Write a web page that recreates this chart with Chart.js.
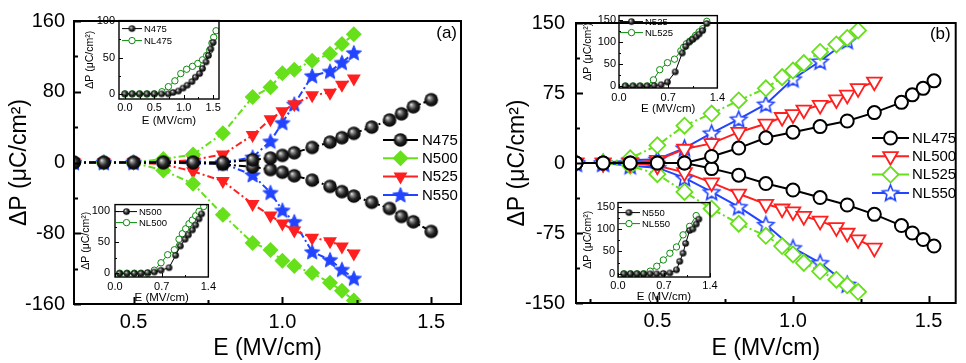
<!DOCTYPE html>
<html lang="en">
<head>
  <meta charset="UTF-8" />
  <title>ΔP vs E</title>
  <script src="https://cdn.jsdelivr.net/npm/chart.js@4"></script>
  <style>
    body { margin: 0; background: #fff; }
    #fig { position: relative; width: 966px; height: 363px; overflow: hidden; background: #fff; }
    #fig canvas { position: absolute; }
  </style>
</head>
<body>
  <div id="fig">
    <canvas id="mainA" width="483" height="363" style="left:0;top:0"></canvas>
    <canvas id="mainB" width="483" height="363" style="left:483px;top:0"></canvas>
    <canvas id="insA1" width="149" height="122" style="left:80px;top:10px"></canvas>
    <canvas id="insA2" width="143" height="115" style="left:76px;top:193px"></canvas>
    <canvas id="insB1" width="153" height="113" style="left:575px;top:6px"></canvas>
    <canvas id="insB2" width="145" height="115" style="left:575px;top:193px"></canvas>
  </div>

<script>
  // ---- panel (a): N samples, upper (+) and lower (-) branches
  var eN475 = [0.3, 0.4, 0.5, 0.6, 0.7, 0.8, 0.9, 0.96, 1.0, 1.04, 1.1, 1.16, 1.2, 1.24, 1.3, 1.36, 1.4, 1.44, 1.5];
  var n475Up = [0, 0, 0, 0, 0, 0, 3, 5, 8, 11, 17, 23, 28, 33, 40, 48, 55, 63, 71];
  var n475Dn = [0, 0, 0, 0, 0, -2, -5, -8, -11, -15, -20, -27, -33, -38, -45, -52, -61, -67, -78];

  var eN = [0.3, 0.4, 0.5, 0.6, 0.7, 0.8, 0.9, 0.96, 1.0, 1.04, 1.1, 1.16, 1.2, 1.24];
  var n500Up = [0, 0, 0, 4, 9, 33, 74, 85, 101, 105, 115, 123, 134, 145];
  var n500Dn = [0, 0, 0, -9, -24, -59, -91, -99, -111, -117, -125, -136, -145, -156];
  var n525Up = [0, 0, 0, 0, 3, 9, 31, 49, 58, 66, 76, 79, 88, 95];
  var n525Dn = [0, 0, 0, -2, -10, -21, -47, -60, -69, -77, -85, -89, -95, -103];
  var n550Up = [0, 0, 0, 0, 0, 0, 6, 24, 45, 66, 98, 103, 113, 124];
  var n550Dn = [0, 0, 0, 0, -1, -1, -14, -34, -54, -67, -101, -110, -121, -131];

  // ---- panel (b): NL samples
  var eNL475 = [0.2, 0.3, 0.4, 0.5, 0.6, 0.7, 0.8, 0.9, 1.0, 1.1, 1.2, 1.3, 1.4, 1.44, 1.48, 1.52];
  var nl475Up = [0, 0, 0, 0, 0, 7, 16, 27, 33, 39, 45, 54, 65, 73, 80, 88];
  var nl475Dn = [0, 0, 0, 0, 0, -6, -13, -22, -29, -37, -45, -55, -67, -75, -82, -89];

  var eNL500 = [0.2, 0.3, 0.4, 0.5, 0.6, 0.7, 0.8, 0.9, 0.96, 1.0, 1.04, 1.1, 1.16, 1.2, 1.24, 1.3];
  var nl500Up = [0, 0, 0, 3, 15, 21, 33, 42, 49, 52, 57, 62, 68, 73, 80, 87];
  var nl500Dn = [0, 0, 0, -3, -10, -21, -33, -44, -49, -52, -57, -62, -69, -75, -82, -91];

  var eNL525 = [0.2, 0.3, 0.4, 0.5, 0.6, 0.7, 0.8, 0.9, 0.96, 1.0, 1.04, 1.1, 1.16, 1.2, 1.24];
  var nl525Up = [0, 0, 5, 19, 40, 53, 67, 80, 92, 99, 107, 119, 127, 134, 142];
  var nl525Dn = [0, 0, -3, -12, -31, -49, -65, -78, -89, -98, -107, -116, -125, -131, -138];

  var eNL550 = [0.2, 0.3, 0.4, 0.5, 0.6, 0.7, 0.8, 0.9, 1.0, 1.1, 1.2];
  var nl550Up = [0, 0, 3, 4, 16, 32, 47, 63, 90, 109, 131];
  var nl550Dn = [0, 0, -3, -5, -16, -31, -47, -66, -91, -107, -130];

  // ---- insets (N vs NL, one sample each)
  var iN475E = [0, 0.125, 0.25, 0.375, 0.5, 0.625, 0.74, 0.82, 0.91, 0.99, 1.06, 1.14, 1.2, 1.27, 1.32, 1.38, 1.42, 1.46, 1.5];
  var iN475P = [0, 0, 0, 0, 0, 0, 0, 2, 4, 8, 12, 17, 23, 28, 35, 44, 53, 62, 71];
  var iNL475E = [0, 0.125, 0.25, 0.375, 0.5, 0.63, 0.74, 0.85, 0.95, 1.05, 1.15, 1.24, 1.32, 1.39, 1.44, 1.48, 1.51, 1.55];
  var iNL475P = [0, 0, 0, 0, 0, 3, 10, 18, 28, 34, 38, 42, 47, 53, 60, 70, 78, 87];

  var iN500E = [0.07, 0.18, 0.29, 0.39, 0.49, 0.59, 0.69, 0.81, 0.91, 0.98, 1.05, 1.1, 1.16, 1.21, 1.26, 1.3];
  var iN500P = [0, 0, 0, 0, 1, 2, 5, 9, 29, 44, 55, 62, 70, 78, 88, 96];
  var iNL500E = [0.07, 0.18, 0.29, 0.39, 0.49, 0.59, 0.69, 0.79, 0.89, 0.96, 1.01, 1.06, 1.11, 1.16, 1.21, 1.26, 1.33];
  var iNL500P = [0, 0, 0, 0, 0, 5, 17, 30, 38, 55, 64, 72, 80, 86, 93, 100, 108];

  var iN525E = [0.09, 0.2, 0.3, 0.4, 0.5, 0.6, 0.69, 0.8, 0.9, 0.95, 1.0, 1.05, 1.1, 1.14, 1.19, 1.25];
  var iN525P = [0, 0, 0, 0, 1, 3, 9, 32, 75, 90, 100, 106, 112, 118, 126, 142];
  var iNL525E = [0.09, 0.2, 0.3, 0.4, 0.49, 0.58, 0.69, 0.79, 0.88, 0.92, 0.96, 1.01, 1.05, 1.09, 1.14, 1.19, 1.25];
  var iNL525P = [0, 0, 0, 0, 14, 37, 53, 61, 80, 88, 96, 102, 107, 115, 123, 130, 147];

  var iN550E = [0.09, 0.19, 0.29, 0.39, 0.49, 0.59, 0.69, 0.79, 0.89, 0.94, 0.99, 1.03, 1.09, 1.14, 1.19, 1.23];
  var iN550P = [0, 0, 0, 0, 0, 0, 1, 2, 9, 28, 46, 68, 97, 100, 111, 122];
  var iNL550E = [0.09, 0.19, 0.29, 0.39, 0.49, 0.59, 0.69, 0.79, 0.89, 0.99, 1.09, 1.19];
  var iNL550P = [0, 0, 0, 0, 6, 17, 31, 46, 60, 87, 106, 130];

  // ---- axis ticks
  var xTicksMain = [0.5, 1.0, 1.5];
  var xMinorA = [0.75, 1.25];
  var xMinorB = [0.25, 0.75, 1.25];
  var yTicksA = [-160, -80, 0, 80, 160];
  var yMinorA = [-120, -40, 40, 120];
  var yTicksB = [-150, -75, 0, 75, 150];
  var yMinorB = [-112.5, -37.5, 37.5, 112.5];
  var xTicksInA1 = [0, 0.5, 1.0, 1.5];
  var xMinorInA1 = [0.25, 0.75, 1.25];
  var xTicksIn = [0, 0.7, 1.4];
  var xMinorIn = [0.35, 1.05];
  var yTicksIn100 = [0, 50, 100];
  var yMinorIn100 = [25, 75];
  var yTicksIn150 = [0, 50, 100, 150];
  var yMinorIn150 = [25, 75, 125];

  var FONT = '"Liberation Sans", Arial, sans-serif';
  var GREEN = '#66e01a';
  var RED = '#ff1f1f';
  var BLUE = '#2244ff';
  var DKGREEN = '#0b8a0b';

  // marker images
  function makeSphere(r) {
    var c = document.createElement('canvas');
    var s = Math.ceil(2 * r + 2);
    c.width = s; c.height = s;
    var g = c.getContext('2d');
    var m = s / 2;
    var grad = g.createRadialGradient(m - 0.35 * r, m - 0.35 * r, 0, m, m, r);
    grad.addColorStop(0, '#f4f4f4');
    grad.addColorStop(0.25, '#8c8c8c');
    grad.addColorStop(0.6, '#262626');
    grad.addColorStop(1, '#000');
    g.fillStyle = grad;
    g.beginPath();
    g.arc(m, m, r, 0, Math.PI * 2);
    g.fill();
    return c;
  }

  function makeStar(r, fill, stroke, lw) {
    var c = document.createElement('canvas');
    var s = Math.ceil(2 * r + 2 * lw + 2);
    c.width = s; c.height = s;
    var g = c.getContext('2d');
    var m = s / 2;
    g.beginPath();
    for (var i = 0; i < 10; i++) {
      var rr = i % 2 == 0 ? r : r * 0.45;
      var ang = -Math.PI / 2 + i * Math.PI / 5;
      var px = m + rr * Math.cos(ang);
      var py = m + 0.08 * r + rr * Math.sin(ang);
      if (i == 0) g.moveTo(px, py); else g.lineTo(px, py);
    }
    g.closePath();
    g.fillStyle = fill;
    g.fill();
    g.lineWidth = lw;
    g.strokeStyle = stroke;
    g.lineJoin = 'miter';
    g.stroke();
    return c;
  }

  var sphereBig = makeSphere(6.8);
  var sphereSmall = makeSphere(3.3);
  var starFilled = makeStar(8, BLUE, BLUE, 1);
  var starOpen = makeStar(8.5, '#fff', BLUE, 1.6);

  function pts(xs, ys) {
    var out = [];
    for (var i = 0; i < xs.length; i++) out.push({ x: xs[i], y: ys[i] });
    return out;
  }

  function series(label, xs, ys, st, lower) {
    return {
      label: label,
      lower: !!lower,
      data: pts(xs, ys),
      showLine: true,
      borderColor: st.color,
      borderWidth: st.lw,
      borderDash: st.dash || [],
      pointStyle: st.style,
      pointRadius: st.r,
      pointRotation: st.rot || 0,
      pointBackgroundColor: st.fill,
      pointBorderColor: st.edge,
      pointBorderWidth: st.ew || 0,
      legendLineWidth: st.llw || st.lw
    };
  }

  var decor = {
    id: 'decor',
    afterDatasetsDraw: function (chart, args, o) {
      var ctx = chart.ctx, a = chart.chartArea;
      var xs = chart.scales.x, ys = chart.scales.y;
      ctx.save();
      ctx.strokeStyle = '#000';
      ctx.lineWidth = o.tickW;
      ctx.beginPath();
      function xt(list, len) {
        list.forEach(function (v) {
          var p = Math.round(xs.getPixelForValue(v)) + 0.5;
          ctx.moveTo(p, a.bottom); ctx.lineTo(p, a.bottom - len);
        });
      }
      function yt(list, len) {
        list.forEach(function (v) {
          var p = Math.round(ys.getPixelForValue(v)) + 0.5;
          ctx.moveTo(a.left, p); ctx.lineTo(a.left + len, p);
        });
      }
      xt(o.xMajor, o.major); xt(o.xMinor, o.minor);
      yt(o.yMajor, o.major); yt(o.yMinor, o.minor);
      ctx.stroke();

      ctx.lineWidth = o.frame;
      ctx.strokeRect(a.left, a.top, a.right - a.left, a.bottom - a.top);

      // legend
      var L = o.legend;
      var items = chart.data.datasets.filter(function (d) { return !d.lower; });
      ctx.font = L.size + 'px ' + FONT;
      ctx.textBaseline = 'middle';
      ctx.textAlign = 'left';
      items.forEach(function (d, i) {
        var y = a.top + L.dy + i * L.gap;
        var x0 = a.left + L.dx;
        ctx.setLineDash([]);
        ctx.strokeStyle = d.borderColor;
        ctx.lineWidth = d.legendLineWidth;
        ctx.beginPath();
        ctx.moveTo(x0, y); ctx.lineTo(x0 + L.len, y);
        ctx.stroke();
        ctx.fillStyle = d.pointBackgroundColor;
        ctx.strokeStyle = d.pointBorderColor;
        ctx.lineWidth = d.pointBorderWidth;
        Chart.helpers.drawPoint(ctx, {
          pointStyle: d.pointStyle,
          rotation: d.pointRotation,
          radius: d.pointRadius,
          borderWidth: d.pointBorderWidth
        }, x0 + L.len / 2, y);
        ctx.fillStyle = '#000';
        ctx.fillText(d.label, x0 + L.len + L.gapText, y + 0.5);
      });

      if (o.tag) {
        ctx.font = o.tag.size + 'px ' + FONT;
        ctx.textAlign = 'right';
        ctx.fillStyle = '#000';
        ctx.fillText(o.tag.text, a.right - o.tag.dx, a.top + o.tag.dy);
      }
      ctx.restore();
    }
  };

  function makePlot(id, o) {
    return new Chart(document.getElementById(id), {
      type: 'scatter',
      data: { datasets: o.datasets },
      options: {
        responsive: false,
        animation: false,
        events: [],
        layout: { padding: o.pad },
        plugins: {
          legend: { display: false },
          tooltip: { enabled: false },
          decor: o.decor
        },
        scales: {
          x: {
            type: 'linear',
            min: o.xMin, max: o.xMax,
            afterBuildTicks: function (s) { s.ticks = o.xTicks.map(function (v) { return { value: v }; }); },
            afterFit: function (s) { s.height = o.xH; },
            grid: { display: false, drawTicks: false },
            border: { display: false },
            ticks: {
              padding: o.xPad, color: '#000', maxRotation: 0, autoSkip: false,
              font: { family: FONT, size: o.tickSize },
              callback: function (v) { return Number(v).toFixed(1); }
            },
            title: {
              display: true, text: 'E (MV/cm)', color: '#000',
              font: { family: FONT, size: o.xTitleSize },
              padding: { top: 0, bottom: o.xTitlePad }
            }
          },
          y: {
            type: 'linear',
            min: o.yMin, max: o.yMax,
            afterBuildTicks: function (s) { s.ticks = o.yTicks.map(function (v) { return { value: v }; }); },
            afterFit: function (s) { s.width = o.yW; },
            grid: { display: false, drawTicks: false },
            border: { display: false },
            ticks: {
              padding: o.yPad, color: '#000', autoSkip: false,
              font: { family: FONT, size: o.tickSize },
              callback: function (v) { return String(v); }
            },
            title: {
              display: true, text: 'ΔP (μC/cm²)', color: '#000',
              font: { family: FONT, size: o.yTitleSize },
              padding: { top: o.yTitlePad, bottom: 0 }
            }
          }
        }
      },
      plugins: [decor]
    });
  }

  // ---- styles
  var DD = [7, 3, 2, 3];
  var stA475 = { color: '#000', lw: 2, dash: DD, style: sphereBig, r: 6.8, fill: '#000', edge: '#000' };
  var stA500 = { color: GREEN, lw: 2, dash: DD, style: 'rectRot', r: 8, fill: GREEN, edge: GREEN };
  var stA525 = { color: RED, lw: 2, dash: DD, style: 'triangle', rot: 180, r: 8, fill: RED, edge: RED };
  var stA550 = { color: BLUE, lw: 2, dash: DD, style: starFilled, r: 8, fill: BLUE, edge: BLUE };

  var stB475 = { color: '#000', lw: 2, style: 'circle', r: 6.5, fill: '#fff', edge: '#000', ew: 2 };
  var stB500 = { color: RED, lw: 2, style: 'triangle', rot: 180, r: 8.5, fill: '#fff', edge: RED, ew: 1.8 };
  var stB525 = { color: GREEN, lw: 2, dash: DD, style: 'rectRot', r: 8, fill: '#fff', edge: GREEN, ew: 1.8 };
  var stB550 = { color: BLUE, lw: 2, style: starOpen, r: 8.5, fill: '#fff', edge: BLUE };

  var stInN = { color: '#000', lw: 1, style: sphereSmall, r: 3.3, fill: '#000', edge: '#000' };
  var stInNL = { color: DKGREEN, lw: 1, style: 'circle', r: 3.2, fill: '#fff', edge: DKGREEN, ew: 1 };

  // ---- panel (a)
  makePlot('mainA', {
    datasets: [
      series('N475', eN475, n475Up, stA475),
      series('N475', eN475, n475Dn, stA475, true),
      series('N500', eN, n500Up, stA500),
      series('N500', eN, n500Dn, stA500, true),
      series('N525', eN, n525Up, stA525),
      series('N525', eN, n525Dn, stA525, true),
      series('N550', eN, n550Up, stA550),
      series('N550', eN, n550Dn, stA550, true)
    ],
    pad: { left: 0, top: 13, right: 22, bottom: 0 },
    xMin: 0.3, xMax: 1.6, yMin: -160, yMax: 160,
    xTicks: xTicksMain, yTicks: yTicksA,
    xH: 59, yW: 74, xPad: 6, yPad: 9, tickSize: 20,
    xTitleSize: 23, yTitleSize: 23, xTitlePad: 1, yTitlePad: 6,
    decor: {
      xMajor: xTicksMain, xMinor: xMinorA, yMajor: yTicksA, yMinor: yMinorA,
      major: 7, minor: 4, tickW: 2, frame: 2,
      legend: { dx: 309, dy: 119, gap: 18.3, len: 35, gapText: 4, size: 15 },
      tag: { text: '(a)', size: 17, dx: 4, dy: 12 }
    }
  });

  // ---- panel (b)
  makePlot('mainB', {
    datasets: [
      series('NL475', eNL475, nl475Up, stB475),
      series('NL475', eNL475, nl475Dn, stB475, true),
      series('NL500', eNL500, nl500Up, stB500),
      series('NL500', eNL500, nl500Dn, stB500, true),
      series('NL525', eNL525, nl525Up, stB525),
      series('NL525', eNL525, nl525Dn, stB525, true),
      series('NL550', eNL550, nl550Up, stB550),
      series('NL550', eNL550, nl550Dn, stB550, true)
    ],
    pad: { left: 0, top: 13, right: 4, bottom: 0 },
    xMin: 0.2, xMax: 1.6, yMin: -150, yMax: 150,
    xTicks: xTicksMain, yTicks: yTicksB,
    xH: 60, yW: 93, xPad: 6, yPad: 11, tickSize: 20,
    xTitleSize: 23, yTitleSize: 23, xTitlePad: 1, yTitlePad: 21,
    decor: {
      xMajor: xTicksMain, xMinor: xMinorB, yMajor: yTicksB, yMinor: yMinorB,
      major: 7, minor: 4, tickW: 2, frame: 2,
      legend: { dx: 296, dy: 115, gap: 18.3, len: 37, gapText: 3, size: 15 },
      tag: { text: '(b)', size: 17, dx: 5, dy: 11 }
    }
  });

  // ---- insets
  function inset(id, dsN, dsNL, o) {
    o.datasets = [dsN, dsNL];
    o.tickSize = 11; o.xTitleSize = 11.5; o.yTitleSize = 10.5;
    o.decor.major = 4; o.decor.minor = 2; o.decor.tickW = 1; o.decor.frame = 1.4;
    o.decor.legend.size = 9.5; o.decor.legend.gapText = 2;
    makePlot(id, o);
  }

  inset('insA1',
    series('N475', iN475E, iN475P, stInN),
    series('NL475', iNL475E, iNL475P, stInNL), {
      pad: { left: 0, top: 9, right: 10, bottom: 0 },
      xMin: -0.1, xMax: 1.6, yMin: -7, yMax: 101,
      xTicks: xTicksInA1, yTicks: yTicksIn100,
      xH: 33, yW: 39, xPad: 2, yPad: 4, xTitlePad: 4, yTitlePad: 4,
      decor: {
        xMajor: xTicksInA1, xMinor: xMinorInA1, yMajor: yTicksIn100, yMinor: yMinorIn100,
        legend: { dx: 3, dy: 8, gap: 12, len: 20 }
      }
    });

  inset('insA2',
    series('N500', iN500E, iN500P, stInN),
    series('NL500', iNL500E, iNL500P, stInNL), {
      pad: { left: 0, top: 9, right: 10, bottom: 0 },
      xMin: 0, xMax: 1.4, yMin: -6, yMax: 111,
      xTicks: xTicksIn, yTicks: yTicksIn100,
      xH: 31, yW: 39, xPad: 3, yPad: 5, xTitlePad: 3, yTitlePad: 4,
      decor: {
        xMajor: xTicksIn, xMinor: xMinorIn, yMajor: yTicksIn100, yMinor: yMinorIn100,
        legend: { dx: 1, dy: 7, gap: 11, len: 21 }
      }
    });

  inset('insB1',
    series('N525', iN525E, iN525P, stInN),
    series('NL525', iNL525E, iNL525P, stInNL), {
      pad: { left: 0, top: 9, right: 10, bottom: 0 },
      xMin: 0, xMax: 1.4, yMin: -4.5, yMax: 160,
      xTicks: xTicksIn, yTicks: yTicksIn150,
      xH: 31, yW: 44, xPad: 3, yPad: 3, xTitlePad: 3, yTitlePad: 7,
      decor: {
        xMajor: xTicksIn, xMinor: xMinorIn, yMajor: yTicksIn150, yMinor: yMinorIn150,
        legend: { dx: 1, dy: 6, gap: 11, len: 23 }
      }
    });

  inset('insB2',
    series('N550', iN550E, iN550P, stInN),
    series('NL550', iNL550E, iNL550P, stInNL), {
      pad: { left: 0, top: 9, right: 10, bottom: 0 },
      xMin: 0, xMax: 1.4, yMin: -7, yMax: 159,
      xTicks: xTicksIn, yTicks: yTicksIn150,
      xH: 31, yW: 43, xPad: 2, yPad: 3, xTitlePad: 4, yTitlePad: 7,
      decor: {
        xMajor: xTicksIn, xMinor: xMinorIn, yMajor: yTicksIn150, yMinor: yMinorIn150,
        legend: { dx: 0, dy: 10, gap: 11, len: 22 }
      }
    });
</script>
</body>
</html>
